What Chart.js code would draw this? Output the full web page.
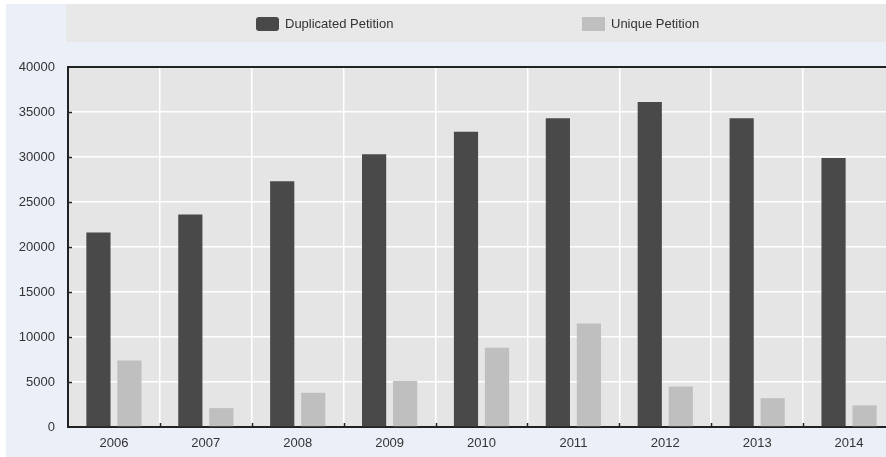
<!DOCTYPE html>
<html>
<head>
<meta charset="utf-8">
<script src="https://cdn.jsdelivr.net/npm/chart.js@4/dist/chart.umd.min.js"></script>
<style>
	html, body { margin: 0; padding: 0; background: #fff; overflow: hidden; }
	#wrap { position: absolute; left: 6px; top: 4px; width: 900px; height: 453px; background: #ebeff8; }
	#petitions { display: block; }
</style>
</head>
<body>
<div id="wrap"><canvas id="petitions" width="900" height="453"></canvas></div>
<script>
(function () {
	'use strict';

	var years = ['2006', '2007', '2008', '2009', '2010', '2011', '2012', '2013', '2014'];
	var duplicated = [21600, 23600, 27300, 30300, 32800, 34300, 36100, 34300, 29900];
	var unique = [7400, 2100, 3800, 5100, 8800, 11500, 4500, 3200, 2400];
	var yTicks = [0, 5000, 10000, 15000, 20000, 25000, 30000, 35000, 40000];

	var FONT = '"Liberation Sans", Arial, sans-serif';
	var FONT_SIZE = 13;
	var INK = '#333';
	var AXIS = '#222';

	// plot background, legend band, the legend itself and the inward tick marks
	var frame = {
		id: 'frame',
		beforeDraw: function (chart) {
			var ctx = chart.ctx;
			var a = chart.chartArea;
			ctx.save();
			ctx.fillStyle = '#e8e8e8';
			ctx.fillRect(60, 0, chart.width - 60, 38);
			ctx.fillStyle = '#e5e5e5';
			ctx.fillRect(a.left, a.top, a.right - a.left, a.bottom - a.top);
			ctx.restore();
		},
		afterDraw: function (chart) {
			var ctx = chart.ctx;
			var a = chart.chartArea;
			var x = chart.scales.x;
			var y = chart.scales.y;
			var i, px, py;

			ctx.save();
			ctx.strokeStyle = AXIS;
			ctx.lineWidth = 1.5;
			ctx.beginPath();
			for (i = 1; i < yTicks.length - 1; i++) {
				py = Math.round(y.getPixelForValue(yTicks[i])) + 0.5;
				ctx.moveTo(a.left, py);
				ctx.lineTo(a.left + 4, py);
			}
			for (i = 1; i < years.length; i++) {
				px = Math.round((x.getPixelForValue(i - 1) + x.getPixelForValue(i)) / 2) + 0.5;
				ctx.moveTo(px, a.bottom);
				ctx.lineTo(px, a.bottom - 4);
			}
			ctx.stroke();

			// legend
			var items = [
				{ ds: chart.data.datasets[0], x: 250, r: 3 },
				{ ds: chart.data.datasets[1], x: 576, r: 0 }
			];
			ctx.font = FONT_SIZE + 'px ' + FONT;
			ctx.textBaseline = 'middle';
			items.forEach(function (it) {
				ctx.fillStyle = it.ds.backgroundColor;
				ctx.beginPath();
				ctx.roundRect(it.x, 13, 23, 14, it.r);
				ctx.fill();
				ctx.fillStyle = INK;
				ctx.fillText(it.ds.label, it.x + 29, 20.5);
			});
			ctx.restore();
		}
	};

	new Chart(document.getElementById('petitions'), {
		type: 'bar',
		data: {
			labels: years,
			datasets: [{
				label: 'Duplicated Petition',
				data: duplicated,
				backgroundColor: '#494949'
			}, {
				label: 'Unique Petition',
				data: unique,
				backgroundColor: '#bfbfbf'
			}]
		},
		options: {
			responsive: false,
			animation: false,
			devicePixelRatio: 1,
			categoryPercentage: 0.675,
			barPercentage: 0.78,
			layout: { padding: { top: 63, right: 11, left: 0, bottom: 0 } },
			plugins: {
				legend: { display: false },
				tooltip: { enabled: false }
			},
			scales: {
				x: {
					grid: { color: '#fff', lineWidth: 1.5, drawTicks: false, offset: true },
					border: { color: AXIS, width: 2 },
					ticks: { color: INK, padding: 9, font: { family: FONT, size: FONT_SIZE } },
					afterFit: function (s) { s.height = 30; }
				},
				y: {
					min: 0,
					max: 40000,
					afterBuildTicks: function (s) {
						s.ticks = yTicks.map(function (v) { return { value: v }; });
					},
					grid: {
						color: function (c) { return c.tick && c.tick.value === 40000 ? AXIS : '#fff'; },
						lineWidth: function (c) { return c.tick && c.tick.value === 40000 ? 2 : 1.5; },
						drawTicks: false
					},
					border: { color: AXIS, width: 2 },
					ticks: {
						color: INK,
						padding: 13,
						font: { family: FONT, size: FONT_SIZE },
						callback: function (v) { return String(v); }
					},
					afterFit: function (s) { s.width = 62; }
				}
			}
		},
		plugins: [frame]
	});
})();
</script>
</body>
</html>
